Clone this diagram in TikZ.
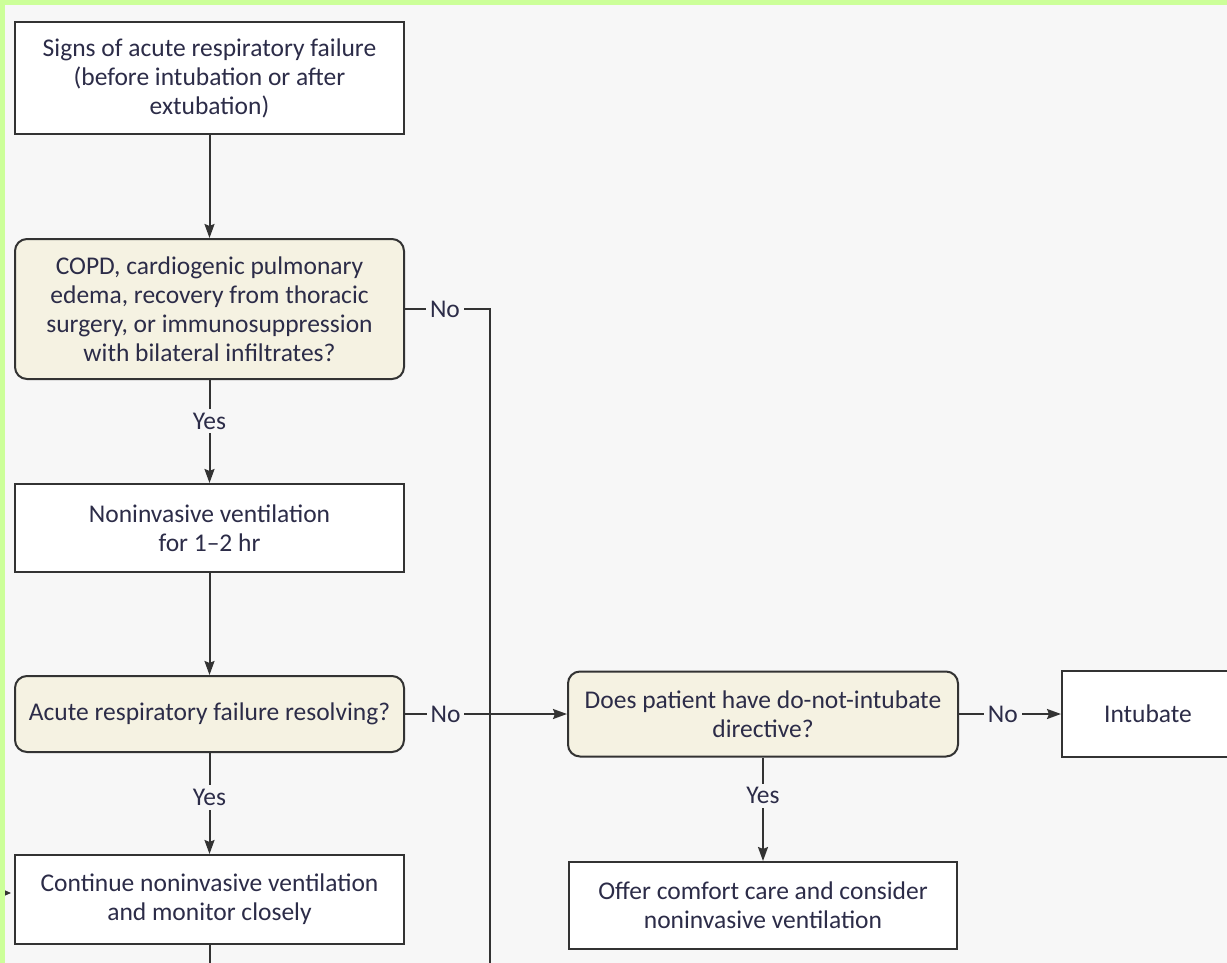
\documentclass[tikz,border=0pt]{standalone}
\usepackage{fontspec}
\setmainfont{Carlito}
\usetikzlibrary{arrows.meta}
\definecolor{bgc}{HTML}{F7F7F7}
\definecolor{grn}{HTML}{CCFF99}
\definecolor{beige}{HTML}{F5F2E2}
\definecolor{txt}{HTML}{2C2C48}
\definecolor{ln}{HTML}{333333}
\tikzset{
  x=1pt,y=-1pt,
  every node/.style={font=\fontsize{25.5}{29}\selectfont, text=txt},
  plainbox/.style={draw=ln, line width=2pt, fill=white, align=center, inner sep=0pt},
  qbox/.style={draw=ln, line width=2pt, fill=beige, rounded corners=12pt, align=center, inner sep=0pt},
  conn/.style={draw=ln, line width=2pt},
  arr/.style={conn, -{Stealth[length=14pt,width=10pt,inset=2pt]}},
  lbl/.style={fill=bgc, inner sep=4pt},
}
\begin{document}
\begin{tikzpicture}
\useasboundingbox (0,0) rectangle (1227,963);
\clip (0,0) rectangle (1227,963);
\fill[grn] (0,0) rectangle (1227,963);
\fill[bgc] (5,5) rectangle (1240,970);

\node[plainbox, minimum width=389pt, minimum height=112pt] (b1) at (209.5,78)
  {Signs of acute respiratory failure\\(before intubation or after\\extubation)};
\node[qbox, minimum width=389pt, minimum height=140pt] (b2) at (209.5,309)
  {COPD, cardiogenic pulmonary\\edema, recovery from thoracic\\surgery, or immunosuppression\\with bilateral infiltrates?};
\node[plainbox, minimum width=389pt, minimum height=88pt] (b3) at (209.5,528)
  {Noninvasive ventilation\\for 1--2 hr};
\node[qbox, minimum width=389pt, minimum height=76pt] (b4) at (209.5,714)
  {Acute respiratory failure resolving?};
\node[qbox, minimum width=390pt, minimum height=85pt] (b5) at (763,714)
  {Does patient have do-not-intubate\\directive?};
\node[plainbox, minimum width=172pt, minimum height=86pt] (b6) at (1148,714)
  {Intubate};
\node[plainbox, minimum width=388pt, minimum height=87pt] (b7) at (763,905.5)
  {Offer comfort care and consider\\noninvasive ventilation};
\node[plainbox, minimum width=389pt, minimum height=89pt] (b8) at (209.5,899.5)
  {Continue noninvasive ventilation\\and monitor closely};

\coordinate (nocol) at (490,309);
\coordinate (nobot) at (490,975);
\coordinate (b8bot) at (209.5,975);
\coordinate (lt) at (-5,893);

\draw[arr] (b1) -- (b2);
\draw[conn] (b2.east) -- node[lbl, pos=0.47] {No} (nocol) -- (nobot);
\draw[arr] (b2) -- node[lbl, pos=0.4] {Yes} (b3);
\draw[arr] (b3) -- (b4);
\draw[arr] (b4.east) -- node[lbl, pos=0.25] {No} (b5.west);
\draw[arr] (b4) -- node[lbl, pos=0.44] {Yes} (b8);
\draw[arr] (b5.east) -- node[lbl, pos=0.43] {No} (b6.west);
\draw[arr] (b5) -- node[lbl, pos=0.37] {Yes} (b7);
\draw[conn] (b8) -- (b8bot);
\draw[conn, -{Stealth[length=8pt,width=7pt]}] (lt) -- ([xshift=-3pt]b8.west |- lt);

\fill[grn] (0,0) rectangle (5,963);
\fill[grn] (0,0) rectangle (1227,5);
\end{tikzpicture}
\end{document}
